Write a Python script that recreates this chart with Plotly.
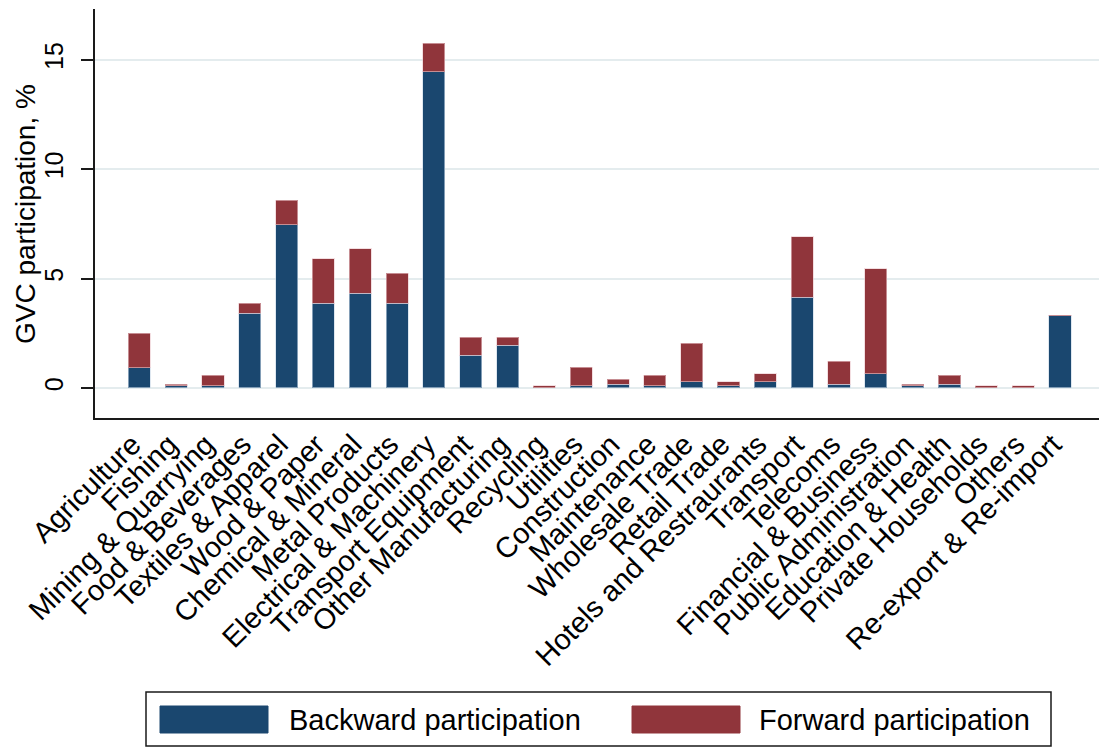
import plotly.graph_objects as go

# GVC participation by sector (%), stacked: backward share at the base, forward share on top
sectors = [
    "Agriculture", "Fishing", "Mining & Quarrying", "Food & Beverages",
    "Textiles & Apparel", "Wood & Paper", "Chemical & Mineral", "Metal Products",
    "Electrical & Machinery", "Transport Equipment", "Other Manufacturing",
    "Recycling", "Utilities", "Construction", "Maintenance", "Wholesale Trade",
    "Retail Trade", "Hotels and Restraurants", "Transport", "Telecoms",
    "Financial & Business", "Public Administration", "Education & Health",
    "Private Households", "Others", "Re-export & Re-import",
]
backward = [0.92, 0.09, 0.09, 3.42, 7.46, 3.87, 4.33, 3.87, 14.45, 1.49, 1.95,
            0.01, 0.09, 0.18, 0.09, 0.29, 0.09, 0.29, 4.15, 0.18, 0.66, 0.09,
            0.18, 0.00, 0.00, 3.30]
forward = [1.58, 0.09, 0.48, 0.45, 1.11, 2.04, 2.04, 1.38, 1.30, 0.82, 0.36,
           0.10, 0.85, 0.21, 0.48, 1.75, 0.20, 0.37, 2.76, 1.03, 4.78, 0.09,
           0.39, 0.09, 0.09, 0.02]
y_ticks = [0, 5, 10, 15]

NAVY = "#1a476f"
MAROON = "#90353b"
FONT = "Liberation Sans, Arial, sans-serif"

W, H = 1099, 747
L, R, T, B = 95, 0, 9, 329
plot_w = W - L - R
plot_h = H - T - B


def px_x(px):
    return (px - L) / plot_w


def px_y(py):
    return (H - B - py) / plot_h


fig = go.Figure()
fig.add_bar(
    x=sectors, y=backward, name="Backward participation",
    marker=dict(color=NAVY, line=dict(color="rgba(200,215,230,0.6)", width=1)),
)
fig.add_bar(
    x=sectors, y=forward, name="Forward participation",
    marker=dict(color=MAROON, line=dict(color="rgba(235,200,205,0.6)", width=1)),
)

fig.update_layout(
    width=W, height=H,
    margin=dict(l=L, r=R, t=T, b=B, pad=0),
    paper_bgcolor="white", plot_bgcolor="white",
    barmode="stack", bargap=0.4,
    showlegend=False,
    font=dict(family=FONT, color="black"),
)

fig.update_xaxes(
    type="category", range=[-1.203, 26.06],
    showline=True, linecolor="#1a1a1a", linewidth=2,
    ticks="", tickangle=-45, tickfont=dict(size=29, family=FONT, color="black"),
    ticklabelshift=-7, ticklabelstandoff=-4,
    showgrid=False, automargin=False, fixedrange=True,
)
fig.update_yaxes(
    range=[-1.373, 17.32], tickvals=y_ticks,
    showline=True, linecolor="#1a1a1a", linewidth=2,
    ticks="outside", ticklen=12, tickwidth=1.5, tickcolor="#1a1a1a",
    tickangle=-90, tickfont=dict(size=25, family=FONT, color="black"),
    ticklabelstandoff=8,
    showgrid=True, gridcolor="#e4ecee", gridwidth=1.5, zeroline=False,
    automargin=False, fixedrange=True,
)

# Axis title
fig.add_annotation(
    text="GVC participation, %", textangle=-90,
    xref="paper", yref="paper", x=px_x(26), y=px_y(214),
    xanchor="center", yanchor="middle", showarrow=False,
    font=dict(size=28, family=FONT, color="black"),
)

# Legend box with swatches drawn in figure space
fig.add_shape(type="rect", xref="paper", yref="paper",
              x0=px_x(146), x1=px_x(1051), y0=px_y(746), y1=px_y(692),
              line=dict(color="#1a1a1a", width=1.5), fillcolor="white")
legend_items = [
    (fig.data[0].name, NAVY, 160, 287),
    (fig.data[1].name, MAROON, 632, 757),
]
for label, color, sw_x, tx_x in legend_items:
    fig.add_shape(type="rect", xref="paper", yref="paper",
                  x0=px_x(sw_x), x1=px_x(sw_x + 108), y0=px_y(733), y1=px_y(706),
                  line=dict(color=color, width=1), fillcolor=color)
    fig.add_annotation(
        text=label, xref="paper", yref="paper", x=px_x(tx_x), y=px_y(720),
        xanchor="left", yanchor="middle", showarrow=False,
        font=dict(size=29, family=FONT, color="black"),
    )

fig.write_html("out.html")
